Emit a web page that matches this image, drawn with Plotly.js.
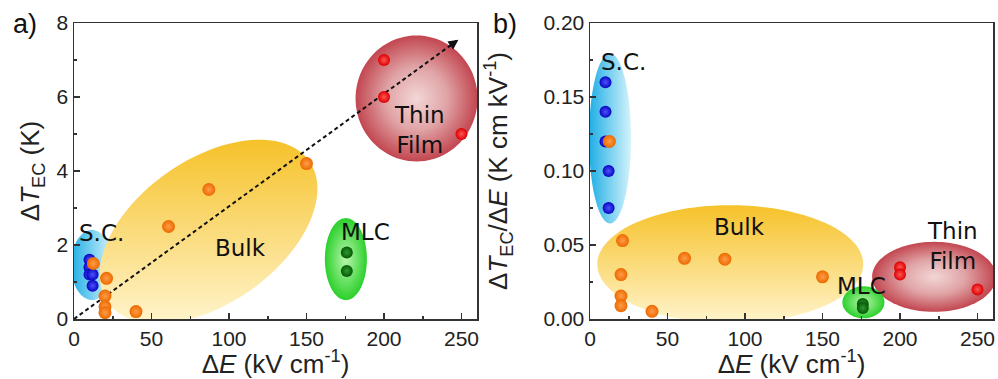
<!DOCTYPE html>
<html>
<head>
<meta charset="utf-8">
<script src="https://cdn.plot.ly/plotly-3.0.1.min.js"></script>
<style>html,body{margin:0;padding:0;background:#fff;} #chart{width:998px;height:379px;}</style>
</head>
<body>
<div id="chart"></div>
<script>
// ---------- data ----------
// panel a) : ΔT_EC vs ΔE
const scE   = [10, 10, 10, 12, 12];
const scT   = [1.6, 1.4, 1.2, 1.2, 0.9];
const bulkE = [12.5, 21, 20, 20, 20, 40, 61, 87, 150];
const bulkT = [1.5, 1.1, 0.62, 0.33, 0.17, 0.2, 2.5, 3.5, 4.2];
const tfE   = [200, 200, 250];
const tfT   = [7.0, 6.0, 5.0];
const mlcE  = [176, 176];
const mlcT  = [1.8, 1.3];
// panel b) : ΔT_EC/ΔE vs ΔE
const scR   = [0.16, 0.14, 0.12, 0.10, 0.075];
const bulkR = [0.12, 0.053, 0.030, 0.0155, 0.009, 0.0052, 0.041, 0.0404, 0.0285];
const tfR   = [0.035, 0.030, 0.020];
const mlcR  = [0.0102, 0.0074];
// tick labels
const xTicks  = [0, 50, 100, 150, 200, 250];
const yTicksA = [0, 2, 4, 6, 8];
const yTicksB = [0, 0.05, 0.10, 0.15, 0.20];
const yTickTextB = ['0.00', '0.05', '0.10', '0.15', '0.20'];
// group labels
const groupNames = ['S.C.', 'Bulk', 'MLC', 'Thin<br>Film'];
// trend arrow (panel a)
const arrowFrom = [0, 0];
const arrowTo   = [248, 7.55];

// ---------- geometry helpers ----------
const W = 998, H = 379;
const M = {l: 74, r: 5, t: 23, b: 60};
const PW = W - M.l - M.r, PH = H - M.t - M.b;
const domA = [0, 403 / PW], domB = [516 / PW, 1];
const xRange = [0, 260], yRangeA = [0, 8], yRangeB = [0, 0.2];
const sxA = PW * (domA[1] - domA[0]) / (xRange[1] - xRange[0]);
const sxB = PW * (domB[1] - domB[0]) / (xRange[1] - xRange[0]);
const syA = PH / (yRangeA[1] - yRangeA[0]);
const syB = PH / (yRangeB[1] - yRangeB[0]);

function ellipse(cx, cy, a, b, ang, sx, sy) {
  const xs = [], ys = [], th = ang * Math.PI / 180;
  for (let i = 0; i <= 96; i++) {
    const t = 2 * Math.PI * i / 96;
    const px = a * Math.cos(t) * Math.cos(th) - b * Math.sin(t) * Math.sin(th);
    const py = a * Math.cos(t) * Math.sin(th) + b * Math.sin(t) * Math.cos(th);
    xs.push(cx + px / sx); ys.push(cy + py / sy);
  }
  return {x: xs, y: ys};
}

function blob(e, xa, ya, grad) {
  return {x: e.x, y: e.y, xaxis: xa, yaxis: ya, mode: 'none', fill: 'toself',
    fillgradient: grad, hoverinfo: 'skip', showlegend: false, type: 'scatter'};
}
const gSC   = {type: 'horizontal', colorscale: [[0, '#20aee6'], [1, '#d4f3fb']]};
const gBulk = {type: 'vertical',   colorscale: [[0, '#fff4cc'], [1, '#f6c22a']]};
const gTF   = {type: 'radial',     colorscale: [[0, '#f3d6d6'], [0.5, '#e0a4a6'], [1, '#c24650']]};
const gMLC  = {type: 'radial',     colorscale: [[0, '#b8f6ac'], [1, '#2cd02c']]};

const mk = (c, g, s) => ({color: c, size: s, gradient: {type: 'radial', color: g}, line: {width: 0}});
const mBlue = mk('#0606c0', '#5050ff', 12);
const mOrg  = mk('#ec6a00', '#ff9c48', 13);
const mRed  = mk('#dc0000', '#ff5656', 12);
const mGrn  = mk('#065806', '#2c9a2c', 12);

function pts(x, y, xa, ya, m) {
  return {x: x, y: y, xaxis: xa, yaxis: ya, mode: 'markers', marker: m,
    type: 'scatter', showlegend: false};
}

const traces = [
  // panel a blobs
  blob(ellipse(11.6, 1.46, 21, 35, 0, sxA, syA), 'x', 'y', gSC),
  blob(ellipse(86.8, 2.36, 123, 72, 35, sxA, syA), 'x', 'y', gBulk),
  blob(ellipse(221, 5.96, 61, 63, 0, sxA, syA), 'x', 'y', gTF),
  blob(ellipse(175.4, 1.62, 21, 41, 0, sxA, syA), 'x', 'y', gMLC),
  // trend line
  {x: [arrowFrom[0], arrowTo[0]], y: [arrowFrom[1], arrowTo[1]], xaxis: 'x', yaxis: 'y',
   mode: 'lines', line: {color: '#111', width: 2, dash: '4px,3px'}, hoverinfo: 'skip',
   showlegend: false, type: 'scatter'},
  pts(scE, scT, 'x', 'y', mBlue),
  pts(bulkE, bulkT, 'x', 'y', mOrg),
  pts(tfE, tfT, 'x', 'y', mRed),
  pts(mlcE, mlcT, 'x', 'y', mGrn),
  // panel b blobs
  blob(ellipse(12.9, 0.122, 21, 85, 0, sxB, syB), 'x2', 'y2', gSC),
  blob(ellipse(90.5, 0.037, 133, 59, 0, sxB, syB), 'x2', 'y2', gBulk),
  blob(ellipse(222, 0.0285, 62, 35, 0, sxB, syB), 'x2', 'y2', gTF),
  blob(ellipse(176.4, 0.0113, 21, 16, 0, sxB, syB), 'x2', 'y2', gMLC),
  pts(scE, scR, 'x2', 'y2', mBlue),
  pts(bulkE, bulkR, 'x2', 'y2', mOrg),
  pts(tfE, tfR, 'x2', 'y2', mRed),
  pts(mlcE, mlcR, 'x2', 'y2', mGrn)
];

const tickFont  = {family: 'Liberation Sans, Arial, sans-serif', size: 21, color: '#222'};
const titleFont = {family: 'Liberation Sans, Arial, sans-serif', size: 26, color: '#222'};
const labFont   = {family: 'DejaVu Sans, sans-serif', size: 23, color: '#111'};

const baseAxis = {
  showgrid: false, zeroline: false, showline: true, linecolor: '#333', linewidth: 1.5,
  mirror: true, ticks: 'inside', ticklen: 6, tickwidth: 1.5, tickcolor: '#333',
  tickfont: tickFont, fixedrange: true
};
const xTitle = {text: 'Δ<i>E</i> (kV cm<sup>-1</sup>)', font: titleFont, standoff: 3};

const layout = {
  width: W, height: H, margin: M, paper_bgcolor: '#fff', plot_bgcolor: '#fff',
  showlegend: false,
  xaxis: Object.assign({}, baseAxis, {domain: domA, range: xRange, tickvals: xTicks,
    minor: {tickvals: [25, 75, 125, 175, 225], ticks: 'inside', ticklen: 3, tickcolor: '#333'},
    title: xTitle, anchor: 'y'}),
  yaxis: Object.assign({}, baseAxis, {range: yRangeA, tickvals: yTicksA,
    minor: {tickvals: [1, 3, 5, 7], ticks: 'inside', ticklen: 3, tickcolor: '#333'},
    title: {text: 'Δ<i>T</i><sub>EC</sub> (K)', font: titleFont, standoff: 9}, anchor: 'x'}),
  xaxis2: Object.assign({}, baseAxis, {domain: domB, range: xRange, tickvals: xTicks,
    minor: {tickvals: [25, 75, 125, 175, 225], ticks: 'inside', ticklen: 3, tickcolor: '#333'},
    title: xTitle, anchor: 'y2'}),
  yaxis2: Object.assign({}, baseAxis, {range: yRangeB, tickvals: yTicksB, ticktext: yTickTextB,
    minor: {tickvals: [0.025, 0.075, 0.125, 0.175], ticks: 'inside', ticklen: 3, tickcolor: '#333'},
    title: {text: 'Δ<i>T</i><sub>EC</sub>/Δ<i>E</i> (K cm kV<sup>-1</sup>)', font: titleFont, standoff: 28},
    anchor: 'x2'}),
  annotations: [
    {x: arrowTo[0], y: arrowTo[1], ax: 241, ay: 7.34, xref: 'x', yref: 'y', axref: 'x', ayref: 'y',
     text: '', showarrow: true, arrowhead: 2, arrowsize: 1, arrowwidth: 2, arrowcolor: '#111'},
    {xref: 'x', yref: 'y', x: 18, y: 2.32, text: groupNames[0], showarrow: false, font: labFont},
    {xref: 'x', yref: 'y', x: 107.6, y: 1.91, text: groupNames[1], showarrow: false, font: labFont},
    {xref: 'x', yref: 'y', x: 188, y: 2.36, text: groupNames[2], showarrow: false, font: labFont},
    {xref: 'x', yref: 'y', x: 222.6, y: 5.12, text: groupNames[3], showarrow: false, font: labFont},
    {xref: 'x2', yref: 'y2', x: 21.5, y: 0.1737, text: groupNames[0], showarrow: false, font: labFont},
    {xref: 'x2', yref: 'y2', x: 96.3, y: 0.0623, text: groupNames[1], showarrow: false, font: labFont},
    {xref: 'x2', yref: 'y2', x: 175.4, y: 0.0223, text: groupNames[2], showarrow: false, font: labFont},
    {xref: 'x2', yref: 'y2', x: 233.8, y: 0.0494, text: groupNames[3], showarrow: false, font: labFont},
    {xref: 'paper', yref: 'paper', x: (11 - M.l) / PW, y: 1 + 16 / PH, xanchor: 'left', yanchor: 'top',
     text: 'a)', showarrow: false, font: {family: 'Liberation Sans, Arial, sans-serif', size: 27, color: '#111'}},
    {xref: 'paper', yref: 'paper', x: (491 - M.l) / PW, y: 1 + 16 / PH, xanchor: 'left', yanchor: 'top',
     text: 'b)', showarrow: false, font: {family: 'Liberation Sans, Arial, sans-serif', size: 27, color: '#111'}}
  ]
};

Plotly.newPlot('chart', traces, layout, {staticPlot: true, displayModeBar: false});
</script>
</body>
</html>
